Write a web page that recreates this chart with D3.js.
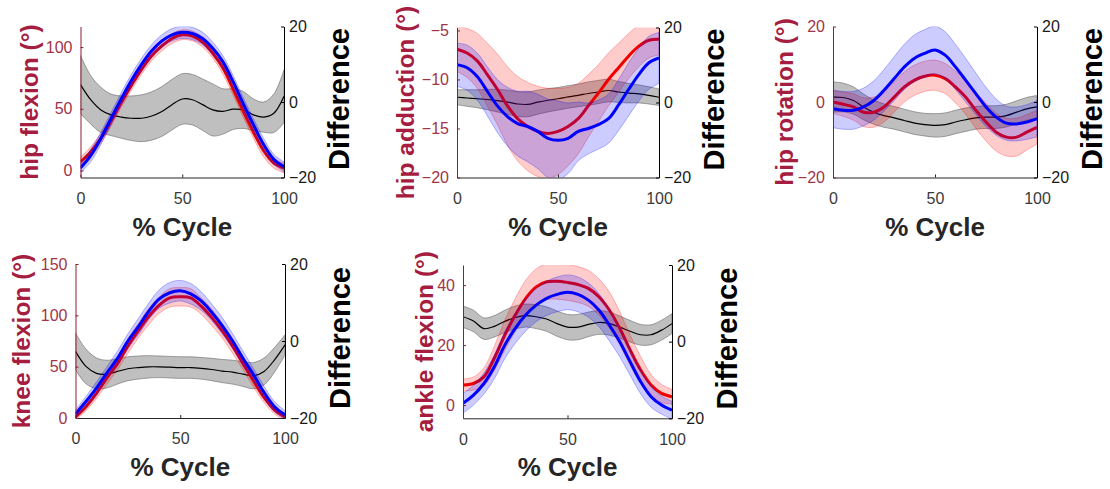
<!DOCTYPE html>
<html>
<head>
<meta charset="utf-8">
<script src="https://cdn.jsdelivr.net/npm/d3@7"></script>
<style>
  body { margin: 0; background: #fff; }
  svg { display: block; font-family: "Liberation Sans", Arial, Helvetica, sans-serif; }
</style>
</head>
<body>
<svg id="svg1" width="1110" height="489"></svg>
<script>
// % of gait cycle, sampled every 5 %
var cycle = [0,5,10,15,20,25,30,35,40,45,50,55,60,65,70,75,80,85,90,95,100];

var cycleTicks = [0, 50, 100];
var diffTicks = [-20, 0, 20];

// hip flexion
var hipFlexRed    = [7,15,26,40,55,69,82,93,101,107,110,109,104,95,83,66,48,31,16,6,2];
var hipFlexRedSd  = [4,4,4,4,4,4,4,4,4,4,4,4,4,4,5,5,5,5,5,4,4];
var hipFlexBlue   = [2,12,26,42,58,73,86,97,105,110,112,111,107,99,88,72,54,37,21,9,3];
var hipFlexBlueSd = [4,5,5,5,5,5,5,5,5,5,5,5,5,5,5,5,5,5,5,4,4];
var hipFlexDiff   = [4.6,0.6,-2.1,-3.4,-4.0,-4.3,-4.3,-3.7,-2.5,-0.7,0.8,0.6,-0.7,-2.1,-2.5,-1.9,-2.1,-3.4,-4.0,-3.0,1.5];
var hipFlexDiffSd = [7.7,6.4,6.0,5.5,5.6,5.9,6.2,6.4,6.6,6.7,6.7,6.7,6.8,6.9,6.0,5.4,4.9,4.2,4.0,5.1,7.0];
var hipFlexTicks  = [0, 50, 100];

// hip adduction
var hipAddRed    = [-6.9,-7.3,-8.1,-9.5,-11.0,-12.7,-14.0,-14.8,-15.3,-15.5,-15.3,-14.8,-14.0,-12.7,-11.4,-10.0,-8.8,-7.6,-6.6,-6.0,-5.9];
var hipAddRedSd  = [2.3,2.5,2.8,3.2,3.6,4.0,4.3,4.5,4.6,4.6,4.4,4.0,3.6,3.2,2.9,2.7,2.5,2.3,2.1,1.8,1.6];
var hipAddBlue   = [-8.5,-8.8,-9.7,-11.2,-12.7,-13.8,-14.5,-14.8,-15.3,-16.0,-16.2,-16.0,-15.3,-15.0,-14.6,-14.0,-12.6,-11.0,-9.5,-8.3,-7.8];
var hipAddBlueSd = [2.2,2.3,2.4,2.5,2.7,3.0,3.3,3.6,3.8,4.0,4.0,3.6,3.0,2.6,2.5,2.5,2.6,2.7,2.7,2.7,2.6];
var hipAddDiff   = [1.4,1.2,1.0,0.8,0.5,0.1,-0.4,-0.5,0.1,0.6,1.0,1.5,1.9,2.4,2.8,3.2,2.8,2.5,2.3,1.9,1.4];
var hipAddDiffSd = [2.0,2.2,2.4,2.7,3.0,3.2,3.3,3.3,3.2,3.1,3.0,3.0,3.0,3.1,3.1,3.0,2.8,2.6,2.4,2.3,2.2];
var hipAddTicks  = [-20, -15, -10, -5];

// hip rotation
var hipRotRed    = [0,-0.6,-1.3,-2.7,-2.7,-1.3,1.3,4.0,5.8,6.8,7.1,6.2,4.0,1.3,-2.2,-5.3,-8.0,-9.3,-9.3,-8.0,-6.7];
var hipRotRedSd  = [3,3.2,3.5,3.8,4,4,4,4,4,4,4,4,4.2,4.5,4.8,5,5,5,5,4.7,4.5];
var hipRotBlue   = [-1.8,-2.2,-2.2,-1.3,0.4,3.1,6.2,9.3,11.6,12.9,13.8,12.4,9.3,5.8,2.2,-1.3,-4.0,-5.6,-5.8,-5.3,-4.4];
var hipRotBlueSd = [5,5,5,5,5.2,5.5,5.8,6,6.2,6.3,6.3,6.2,6,5.8,5.5,5.2,4.8,4.5,4.5,4.6,4.8];
var hipRotDiff   = [1.3,1.2,0.4,-1.3,-2.7,-3.6,-4.2,-4.9,-5.6,-6.0,-6.2,-6.0,-5.3,-4.7,-4.2,-4.0,-4.0,-3.6,-2.7,-1.8,-1.3];
var hipRotDiffSd = [4,3.8,3.6,3.4,3.2,3.1,3,3,3,3,3.1,3.1,3.1,3.1,3,3,3,3,3,3,3];
var hipRotTicks  = [-20, 0, 20];

// knee flexion
var kneeRed    = [1,11,24,39,53,70,85,99,110,117,118,117,109,98,85,70,53,36,20,8,1];
var kneeRedSd  = [3,4,5,6,6,7,7,8,8,9,9,9,8,8,7,7,6,6,5,4,3];
var kneeBlue   = [4,16,29,44,58,75,89,104,116,122,124,121,114,103,90,75,58,42,25,11,3];
var kneeBlueSd = [4,5,6,6,7,7,8,8,9,10,10,10,9,8,8,7,7,6,6,5,4];
var kneeDiff   = [-2.7,-6.6,-8.4,-8.6,-7.9,-7.2,-6.9,-6.7,-6.7,-6.8,-6.9,-6.9,-7.1,-7.4,-7.8,-8.1,-8.6,-9.0,-7.9,-4.9,-1.0];
var kneeDiffSd = [4.8,4.5,4.0,3.6,3.3,3.1,3.0,2.9,2.8,2.8,2.8,2.8,2.8,2.9,3.0,3.1,3.2,3.4,3.5,3.2,2.6];
var kneeTicks  = [0, 50, 100, 150];

// ankle flexion
var ankleRed    = [6.7,7.2,9.4,15.6,23.3,30,35.6,39.4,41.1,41.3,40.9,40.2,38.9,36.1,31.7,25.6,18.3,11.7,6.7,3.9,2.8];
var ankleRedSd  = [2,2.2,3,4,5,5.5,6,6,6,6,6,6,6,6,6,5.5,5,4.5,3.5,3,2.5];
var ankleBlue   = [0.6,3.3,7.2,12.8,20,25.6,30,33.3,35.6,36.9,37.6,36.9,35,31.7,26.7,21.1,14.4,7.8,2.8,0,-1.7];
var ankleBlueSd = [3.3,3.3,3.5,4,4.5,5,5.3,5.5,5.7,5.8,5.8,5.8,5.7,5.5,5.3,5,4.5,4,3.5,3,3];
var ankleDiff   = [6.5,5.4,3.4,4.0,5.3,6.3,6.8,6.5,5.9,4.7,3.8,3.8,4.5,5.0,4.7,3.8,2.7,1.8,1.8,3.0,4.7];
var ankleDiffSd = [2.8,2.8,2.8,2.8,2.9,3,3,3.1,3.2,3.3,3.3,3.3,3.2,3.1,3,2.9,2.8,2.7,2.6,2.6,2.6];
var ankleTicks  = [0, 20, 40];

// layout of the five axes (pixels)
var panels = [
  {name: 'hip flexion (°)',   red: hipFlexRed, redSd: hipFlexRedSd, blue: hipFlexBlue, blueSd: hipFlexBlueSd, diff: hipFlexDiff, diffSd: hipFlexDiffSd, ticks: hipFlexTicks,
   domain: [-5.7, 116.7], left: 80.5, right: 284, top: 26.5, bottom: 177.5, labelOff: 43},
  {name: 'hip adduction (°)', red: hipAddRed, redSd: hipAddRedSd, blue: hipAddBlue, blueSd: hipAddBlueSd, diff: hipAddDiff, diffSd: hipAddDiffSd, ticks: hipAddTicks,
   domain: [-20, -4.7], left: 457, right: 659, top: 27.5, bottom: 177.5, labelOff: 43},
  {name: 'hip rotation (°)',  red: hipRotRed, redSd: hipRotRedSd, blue: hipRotBlue, blueSd: hipRotBlueSd, diff: hipRotDiff, diffSd: hipRotDiffSd, ticks: hipRotTicks,
   domain: [-20, 20], left: 833, right: 1037, top: 26.5, bottom: 177.5, labelOff: 40},
  {name: 'knee flexion (°)',  red: kneeRed, redSd: kneeRedSd, blue: kneeBlue, blueSd: kneeBlueSd, diff: kneeDiff, diffSd: kneeDiffSd, ticks: kneeTicks,
   domain: [0, 150], left: 75.5, right: 285, top: 264, bottom: 418, labelOff: 46},
  {name: 'ankle flexion (°)', red: ankleRed, redSd: ankleRedSd, blue: ankleBlue, blueSd: ankleBlueSd, diff: ankleDiff, diffSd: ankleDiffSd, ticks: ankleTicks,
   domain: [-4.4, 46.7], left: 463, right: 672, top: 265, bottom: 418.3, labelOff: 30}
];

var leftColor = '#8c1d33';
var leftText = '#a23448';
var labelColor = '#a51d3f';

var svg = d3.select('svg');

panels.forEach(function(p, i) {
  var x = d3.scaleLinear().domain([0, 100]).range([p.left, p.right]);
  var yL = d3.scaleLinear().domain(p.domain).range([p.bottom, p.top]);
  var yR = d3.scaleLinear().domain([-20, 20]).range([p.bottom, p.top]);

  svg.append('clipPath').attr('id', 'clip' + i)
    .append('rect')
    .attr('x', p.left).attr('y', p.top)
    .attr('width', p.right - p.left).attr('height', p.bottom - p.top);

  var g = svg.append('g').attr('clip-path', 'url(#clip' + i + ')');

  function band(mean, sd, y, fill, edge, op) {
    var area = d3.area()
      .x(function(d, j) { return x(cycle[j]); })
      .y0(function(d, j) { return y(mean[j] - sd[j]); })
      .y1(function(d, j) { return y(mean[j] + sd[j]); })
      .curve(d3.curveCatmullRom);
    g.append('path')
      .attr('d', area(mean))
      .attr('fill', fill).attr('fill-opacity', op)
      .attr('stroke', edge).attr('stroke-width', 0.8);
  }

  function line(mean, y, color, w) {
    var ln = d3.line()
      .x(function(d, j) { return x(cycle[j]); })
      .y(function(d) { return y(d); })
      .curve(d3.curveCatmullRom);
    g.append('path')
      .attr('d', ln(mean))
      .attr('fill', 'none')
      .attr('stroke', color).attr('stroke-width', w);
  }

  // difference on the right axis
  band(p.diff, p.diffSd, yR, '#808080', 'rgba(110,110,110,0.8)', 0.5);
  line(p.diff, yR, '#000', 1.2);
  // the two conditions on the left axis
  band(p.red, p.redSd, yL, '#ff0000', 'rgba(255,0,0,0.35)', 0.2);
  line(p.red, yL, '#f00000', 3);
  band(p.blue, p.blueSd, yL, '#0000ff', 'rgba(0,0,255,0.35)', 0.2);
  line(p.blue, yL, '#0000ff', 3);

  // x axis
  var xa = svg.append('g')
    .attr('transform', 'translate(0,' + p.bottom + ')')
    .call(d3.axisBottom(x).tickValues(cycleTicks).tickSizeInner(-3).tickSizeOuter(0).tickPadding(15));
  xa.select('.domain').attr('stroke', '#262626');
  xa.selectAll('.tick line').attr('stroke', '#262626');
  xa.selectAll('text').attr('font-size', 16).attr('fill', '#3a3a3a').attr('font-family', null);

  // left axis
  var la = svg.append('g')
    .attr('transform', 'translate(' + p.left + ',0)')
    .call(d3.axisLeft(yL).tickValues(p.ticks).tickSizeInner(-3).tickSizeOuter(0).tickPadding(8));
  la.select('.domain').attr('stroke', leftColor);
  la.selectAll('.tick line').attr('stroke', leftColor);
  la.selectAll('text').attr('font-size', 16).attr('fill', leftText).attr('font-family', null);

  // right axis
  var ra = svg.append('g')
    .attr('transform', 'translate(' + p.right + ',0)')
    .call(d3.axisRight(yR).tickValues(diffTicks).tickSizeInner(-3).tickSizeOuter(0).tickPadding(5));
  ra.select('.domain').attr('stroke', '#000');
  ra.selectAll('.tick line').attr('stroke', '#000');
  ra.selectAll('text').attr('font-size', 16).attr('fill', '#1a1a1a').attr('font-family', null);

  var midY = (p.top + p.bottom) / 2;

  svg.append('text')
    .attr('transform', 'translate(' + (p.left - p.labelOff) + ',' + midY + ') rotate(-90)')
    .attr('text-anchor', 'middle')
    .attr('font-size', 24.5).attr('font-weight', 'bold')
    .attr('fill', labelColor)
    .text(p.name);

  svg.append('text')
    .attr('transform', 'translate(' + (p.right + 65) + ',' + (midY - 3) + ') rotate(-90)')
    .attr('text-anchor', 'middle')
    .attr('font-size', 29).attr('font-weight', 'bold')
    .attr('fill', '#000')
    .text('Difference');

  svg.append('text')
    .attr('x', (p.left + p.right) / 2)
    .attr('y', p.bottom + 58)
    .attr('text-anchor', 'middle')
    .attr('font-size', 26).attr('font-weight', 'bold')
    .attr('fill', '#262626')
    .text('% Cycle');
});
</script>
</body>
</html>
